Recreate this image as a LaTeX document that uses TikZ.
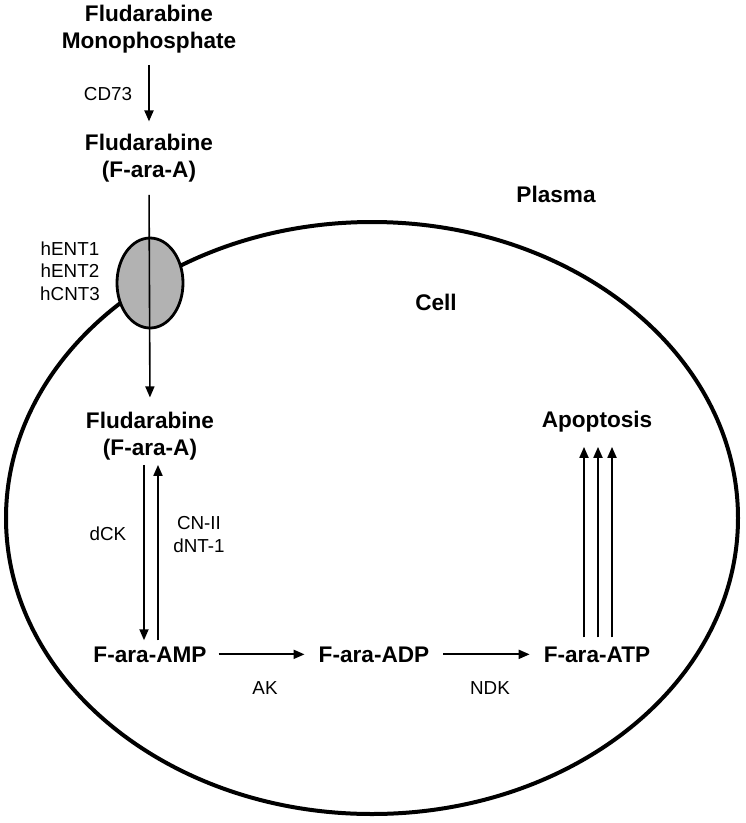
\documentclass[tikz,border=0pt]{standalone}
\usepackage{fontspec}
\setmainfont{Liberation Sans}
\usetikzlibrary{arrows.meta}
\begin{document}
\begin{tikzpicture}[x=1pt,y=-1pt,
  bnode/.style={font=\fontsize{22.6}{27}\selectfont\bfseries, inner sep=0pt, align=center, anchor=base},
  lab/.style={font=\fontsize{18.8}{22.5}\selectfont, inner sep=0pt, align=center, anchor=base},
  arr/.style={line width=1.9pt, -{Triangle[length=11pt,width=9pt]}},
  tarr/.style={line width=1.6pt, -{Triangle[length=11pt,width=9pt]}}]
\useasboundingbox (0,0) rectangle (746,823);
% cell membrane
\draw[line width=4pt] (372,518) ellipse [x radius=366, y radius=296];
% transporter
\draw[line width=2.8pt, fill=black!30] (150,283) ellipse [x radius=33, y radius=45];
% nodes (multi-line nodes are placed by the baseline of their last line)
\node[bnode] (mono) at (149,48) {Fludarabine\\Monophosphate};
\node[bnode] (fluo) at (149,177) {Fludarabine\\(F-ara-A)};
\node[bnode] (flui) at (150,455) {Fludarabine\\(F-ara-A)};
\node[bnode] (amp) at (150,662) {F-ara-AMP};
\node[bnode] (adp) at (374,662) {F-ara-ADP};
\node[bnode] (atp) at (597,662) {F-ara-ATP};
\node[bnode] (apo) at (597,427) {Apoptosis};
\node[bnode] (plasma) at (556,202) {Plasma};
\node[bnode] (cellt) at (436,310) {Cell};
% labels
\node[lab] (cd73) at (108,100) {CD73};
\node[lab] (trans) at (70,300) {hENT1\\hENT2\\hCNT3};
\node[lab] (dck) at (108,540) {dCK};
\node[lab] (cn) at (199,552) {CN-II\\dNT-1};
\node[lab] (ak) at (265,694) {AK};
\node[lab] (ndk) at (490,694) {NDK};
% arrows
\draw[arr, shorten <=12pt, shorten >=12pt] (mono.south) -- (fluo.north);
\draw[tarr, shorten <=13pt, shorten >=14pt] (fluo.south) -- (flui.north);
\draw[arr, shorten <=5pt, shorten >=6pt] ([xshift=-6pt]flui.south) -- ([xshift=-6pt]amp.north);
\draw[arr, shorten <=6pt, shorten >=5pt] ([xshift=8pt]amp.north) -- ([xshift=8pt]flui.south);
\draw[arr, shorten <=12pt, shorten >=14pt] (amp.east) -- (adp.west);
\draw[arr, shorten <=14pt, shorten >=14pt] (adp.east) -- (atp.west);
\foreach \dx in {-14,0,14}{
  \draw[arr, shorten <=9pt, shorten >=15pt] ([xshift=\dx pt+1pt]atp.north) -- ([xshift=\dx pt+1pt]apo.south);
}
\end{tikzpicture}
\end{document}
